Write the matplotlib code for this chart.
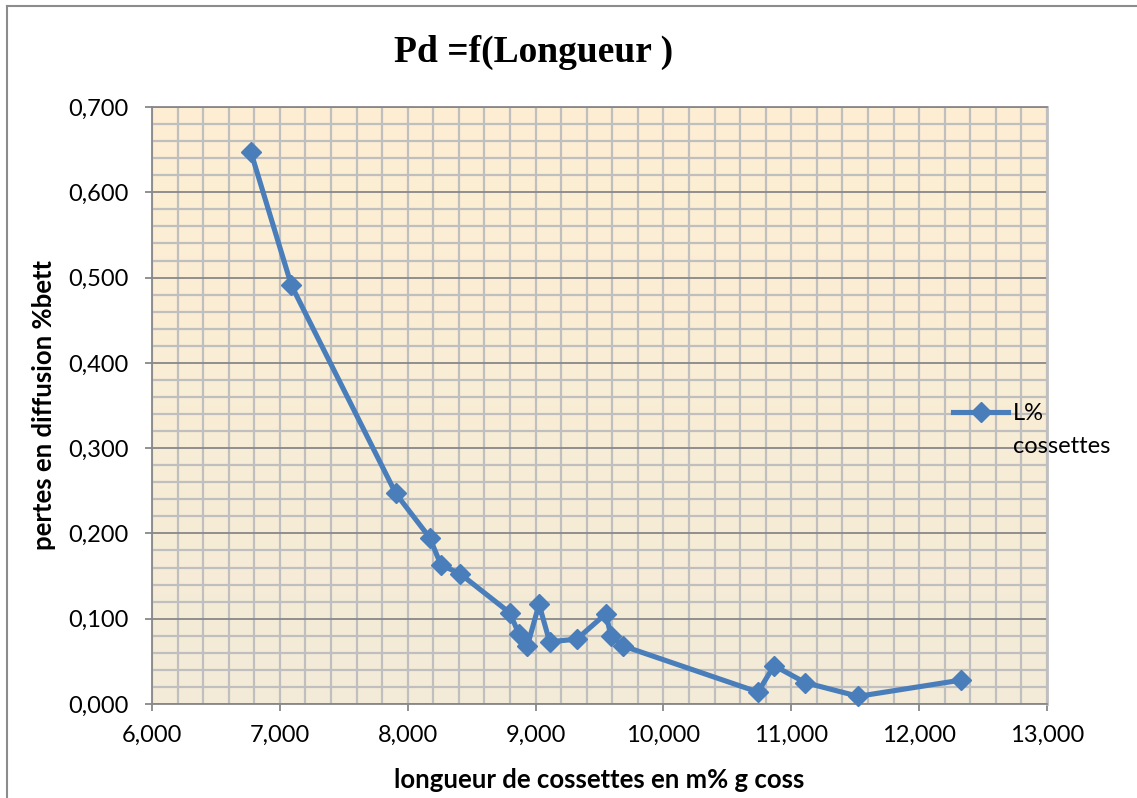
import numpy as np
import matplotlib
matplotlib.use("Agg")
from matplotlib import pyplot as plt
from matplotlib.ticker import MultipleLocator, FuncFormatter
from matplotlib.colors import LinearSegmentedColormap
from matplotlib.lines import Line2D
from matplotlib.legend_handler import HandlerLine2D

# longueur de cossettes (m / 100 g) et pertes en diffusion (% bett.)
longueur = [6.774, 7.090, 7.906, 8.172, 8.260, 8.407, 8.798, 8.870, 8.936, 9.027,
            9.110, 9.322, 9.551, 9.588, 9.686, 10.740, 10.865, 11.110, 11.524, 12.327]
pertes = [0.647, 0.491, 0.247, 0.195, 0.163, 0.153, 0.107, 0.082, 0.068, 0.117,
          0.073, 0.076, 0.106, 0.080, 0.068, 0.014, 0.045, 0.025, 0.009, 0.028]

titre = "Pd =f(Longueur )"
label_x = "longueur de cossettes en m% g coss"
label_y = "pertes en diffusion %bett"
serie = "L%\ncossettes"

BLUE = "#4A7EBB"
GRID_LIGHT = "#BFBFBF"
GRID_DARK = "#888888"
SANS = ["Lato", "DejaVu Sans"]
FS_TICK = 17


class TopLineHandler(HandlerLine2D):
    # put the legend sample level with the first line of a two-line label
    def __init__(self, dy, **kw):
        super().__init__(**kw)
        self.dy = dy

    def create_artists(self, legend, orig_handle, xdescent, ydescent, width, height,
                       fontsize, trans):
        arts = super().create_artists(legend, orig_handle, xdescent, ydescent, width,
                                      height, fontsize, trans)
        for a in arts:
            a.set_ydata(np.asarray(a.get_ydata()) + self.dy)
        return arts


plt.rcParams["font.family"] = SANS

fig = plt.figure(figsize=(11.37, 7.98), dpi=100)
ax = fig.add_axes([152 / 1137, 1 - 704 / 798, 895 / 1137, 597 / 798])

# background fill, slightly warmer at the top
cmap = LinearSegmentedColormap.from_list("fond", ["#F3EBD8", "#FEEFD3"])
ax.imshow(np.linspace(0, 1, 256).reshape(-1, 1), cmap=cmap, aspect="auto",
          origin="lower", extent=[0, 1, 0, 1], transform=ax.transAxes, zorder=0)

ax.set_xlim(6, 13)
ax.set_ylim(0, 0.7)
ax.xaxis.set_major_locator(MultipleLocator(1))
ax.xaxis.set_minor_locator(MultipleLocator(0.2))
ax.yaxis.set_major_locator(MultipleLocator(0.1))
ax.yaxis.set_minor_locator(MultipleLocator(0.02))
fmt = FuncFormatter(lambda v, p: f"{v:.3f}".replace(".", ","))
ax.xaxis.set_major_formatter(fmt)
ax.yaxis.set_major_formatter(fmt)

ax.grid(which="both", axis="x", color=GRID_LIGHT, lw=1.6, zorder=1)
ax.grid(which="minor", axis="y", color=GRID_LIGHT, lw=1.6, zorder=1)
ax.grid(which="major", axis="y", color=GRID_DARK, lw=1.3, zorder=1)
ax.set_axisbelow(True)

for s in ["left", "bottom", "top"]:
    ax.spines[s].set_color(GRID_DARK)
    ax.spines[s].set_linewidth(1.3)
ax.spines["right"].set_color(GRID_LIGHT)
ax.spines["right"].set_linewidth(2)

ax.tick_params(which="major", direction="out", length=5, width=1.3, color=GRID_DARK,
               labelsize=FS_TICK, labelcolor="black")
ax.tick_params(which="minor", length=0)
ax.tick_params(axis="y", pad=12)
ax.tick_params(axis="x", pad=10)

ax.plot(longueur, pertes, color=BLUE, lw=3.7, marker="D", ms=10,
        markeredgecolor=BLUE, label=serie, zorder=3, clip_on=False)

ax.set_xlabel(label_x, fontsize=18.5, fontweight="bold")
ax.set_ylabel(label_y, fontsize=18.5, fontweight="bold")
ax.xaxis.set_label_coords(0.5, -0.108)
ax.yaxis.set_label_coords(-0.107, 0.5)

fig.text(534 / 1137, 1 - 52 / 798, titre, ha="center", va="center",
         fontsize=27, fontweight="bold", family="Liberation Serif")

leg = ax.legend(loc="upper left", bbox_to_anchor=(953 / 1137, 1 - 403 / 798),
                bbox_transform=fig.transFigure, frameon=False, fontsize=FS_TICK,
                handlelength=2.35, handletextpad=0.2, borderaxespad=0, borderpad=0,
                handler_map={Line2D: TopLineHandler(dy=13)})
for t in leg.get_texts():
    t.set_linespacing(1.7)

# chart border
fig.add_artist(Line2D([7 / 1137, 7 / 1137], [0, 1 - 6 / 798], transform=fig.transFigure,
                      color="#8C8C8C", lw=1.5))
fig.add_artist(Line2D([7 / 1137, 1], [1 - 6 / 798, 1 - 6 / 798], transform=fig.transFigure,
                      color="#8C8C8C", lw=1.5))

fig.savefig("out.png", dpi=100, facecolor="white")
